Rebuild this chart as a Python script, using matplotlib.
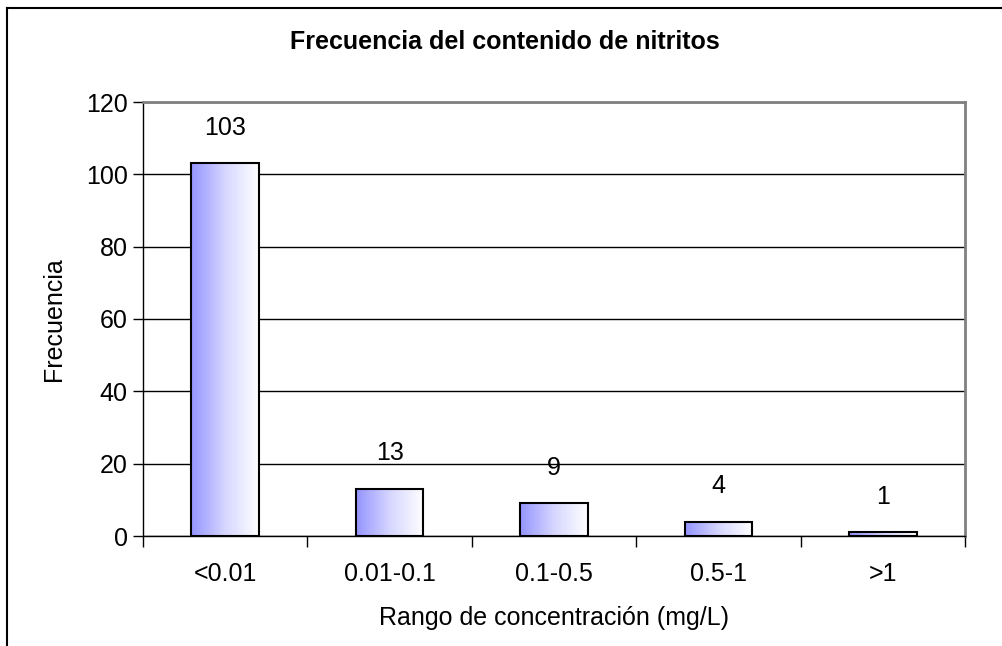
import numpy as np
import matplotlib
matplotlib.use("Agg")
import matplotlib.pyplot as plt
from matplotlib.colors import LinearSegmentedColormap
from matplotlib.lines import Line2D

plt.rcParams['font.family'] = ['Liberation Sans', 'DejaVu Sans']

categories = ["<0.01", "0.01-0.1", "0.1-0.5", "0.5-1", ">1"]
counts = [103, 13, 9, 4, 1]
yticks = [0, 20, 40, 60, 80, 100, 120]

W, H = 1003, 646
fs = 18
fig = plt.figure(figsize=(W / 100, H / 100), dpi=100)
ax = fig.add_axes([143 / W, 1 - 536 / H, (965 - 143) / W, (536 - 102) / H])

x = np.arange(len(categories))
bw = 0.41
cmap = LinearSegmentedColormap.from_list("grad", ["#9494ff", "#d6d6ff", "#ffffff"])
grad = np.linspace(0, 1, 256).reshape(1, -1)

bars = ax.bar(x, counts, width=bw, facecolor="none", edgecolor="black", linewidth=1.5, zorder=3)
for b in bars:
    x0, y0 = b.get_x(), b.get_y()
    im = ax.imshow(grad, cmap=cmap, aspect="auto", extent=[x0, x0 + b.get_width(), y0, y0 + b.get_height()],
                   zorder=2, interpolation="bicubic")
    im.set_clip_path(b)
for xi, c in zip(x, counts):
    ax.annotate(str(c), (xi, c), xytext=(0, 17), textcoords="offset points", ha="center", va="bottom", fontsize=fs)

ax.set_xlim(-0.5, len(categories) - 0.5)
ax.set_ylim(0, 120)
ax.set_yticks(yticks)
ax.set_xticks(x)
ax.set_xticklabels(categories)
ax.set_xticks(np.arange(-0.5, len(categories)), minor=True)
ax.tick_params(axis="x", which="major", length=0, pad=19, labelsize=fs)
ax.tick_params(axis="x", which="minor", length=8, width=1, direction="out")
ax.tick_params(axis="y", length=7, width=1, direction="out", labelsize=fs, pad=4)

ax.grid(axis="y", color="black", linewidth=1, zorder=1)
ax.set_axisbelow(True)
for s in ["top", "right"]:
    ax.spines[s].set_color("#808080")
    ax.spines[s].set_linewidth(2)
for s in ["left", "bottom"]:
    ax.spines[s].set_color("black")
    ax.spines[s].set_linewidth(1)

ax.set_xlabel("Rango de concentración (mg/L)", fontsize=fs, labelpad=14)
ax.set_ylabel("Frecuencia", fontsize=fs, labelpad=14)
fig.text(505 / W, 1 - 42 / H, "Frecuencia del contenido de nitritos", ha="center", va="center",
         fontsize=fs, fontweight="bold")

# chart frame (left and top edges visible)
fig.add_artist(Line2D([7 / W, 7 / W], [0, 1 - 8 / H], color="black", linewidth=1.5, transform=fig.transFigure))
fig.add_artist(Line2D([7 / W, 1], [1 - 8 / H, 1 - 8 / H], color="black", linewidth=1.5, transform=fig.transFigure))

fig.savefig("out.png", dpi=100)
